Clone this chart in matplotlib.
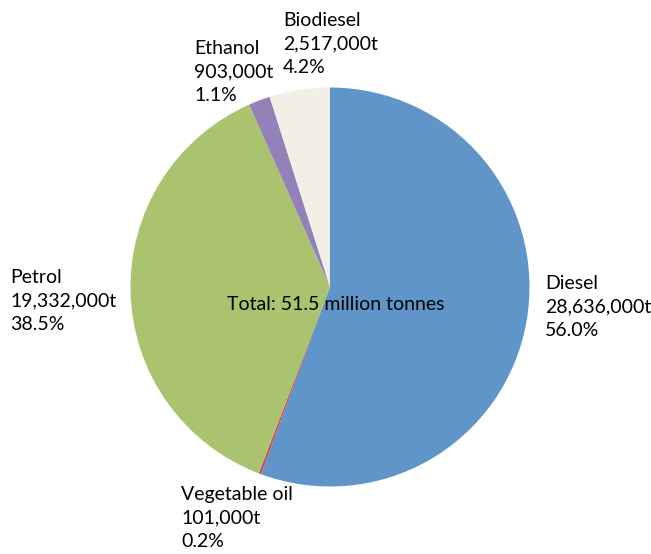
import matplotlib.pyplot as plt

# fuel use, tonnes
fuels = ["Diesel", "Vegetable oil", "Petrol", "Ethanol", "Biodiesel"]
tonnes = [28636000, 101000, 19332000, 903000, 2517000]
shares = ["56.0%", "0.2%", "38.5%", "1.1%", "4.2%"]
colors = ["#5F95C9", "#C6504E", "#AAC36F", "#9581B9", "#F1EFE6"]
total_label = "Total: 51.5 million tonnes"

W, H = 651, 554
cx, cy, r = 330, 287, 199.5

plt.rcParams['font.family'] = ['Lato', 'DejaVu Sans']

fig = plt.figure(figsize=(W / 100, H / 100), dpi=100)
ax = fig.add_axes([0, 0, 1, 1])

ax.pie(tonnes, colors=colors, startangle=90, counterclock=False,
       wedgeprops=dict(linewidth=0))
ax.set_aspect('auto')
ax.set_xlim(-cx / r, (W - cx) / r)
ax.set_ylim((cy - H) / r, cy / r)
ax.axis('off')

def px(x, y):
    return (x - cx) / r, (cy - y) / r

# top-left corner of each label block, in pixels
label_pos = [(545, 275), (181, 486), (10, 269), (194, 40), (283, 12)]

for name, t, s, (x, y) in zip(fuels, tonnes, shares, label_pos):
    lx, ly = px(x, y)
    ax.text(lx, ly, f"{name}\n{t:,}t\n{s}", ha='left', va='top',
            fontsize=14, linespacing=1.47, color='black')

tx, ty = px(336, 304)
ax.text(tx, ty, total_label, ha='center', va='center', fontsize=14, color='black')

fig.savefig("out.png", dpi=100)
